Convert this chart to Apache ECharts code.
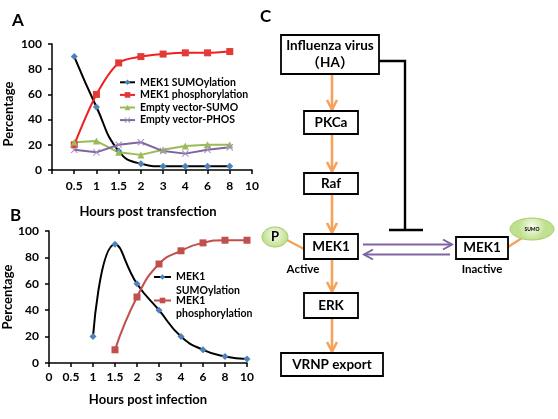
<!DOCTYPE html>
<html><head><meta charset="utf-8">
<script src="https://cdn.jsdelivr.net/npm/echarts@6/dist/echarts.min.js"></script>
<style>html,body{margin:0;padding:0;background:#fff}#c{width:558px;height:419px}</style>
</head><body><div id="c"></div>
<script>
// ---- Data ----
const xLabelsA = ['', '0.5', '1', '1.5', '2', '3', '4', '6', '8', '10'];
const sumoA = [null, 90, 50, 15, 5, 3, 3, 3, 3, null];
const phosA = [null, 20, 60, 85, 90, 92, 93, 93, 94, null];
const emptySumoA = [null, 22, 23, 14, 12, 16, 19, 20, 20, null];
const emptyPhosA = [null, 16, 14, 20, 22, 15, 13, 16, 18, null];
const seriesNamesA = ['MEK1 SUMOylation', 'MEK1 phosphorylation', 'Empty vector-SUMO', 'Empty vector-PHOS'];

const xLabelsB = ['0', '0.5', '1', '1.5', '2', '3', '4', '6', '8', '10'];
const sumoB = [null, null, 20, 90, 60, 40, 20, 10, 5, 3];
const phosB = [null, null, null, 10, 50, 75, 85, 91, 93, 93];
const seriesNamesB = ['MEK1\nSUMOylation', 'MEK1\nphosphorylation'];

const yMin = 0, yMax = 100, yStep = 20;

// ---- Styling ----
const FONT = 'Lato, "Noto Sans CJK SC", sans-serif';
const BLACK = '#000';
const ORANGE = '#F5A25A';
const PURPLE = '#8064A2';
const XSYM = 'path://M0,1L1,0L5,4L9,0L10,1L6,5L10,9L9,10L5,6L1,10L0,9L4,5Z';

const chart = echarts.init(document.getElementById('c'), null, {renderer: 'canvas', width: 558, height: 419});

function xAxisCfg(grid, data, name, nameGap, labelMargin, pad) {
  return {
    gridIndex: grid, type: 'category', data: data, boundaryGap: false,
    axisLine: {show: true, lineStyle: {color: BLACK, width: 1.5}},
    axisTick: {show: true, length: 4, interval: 0, lineStyle: {color: BLACK, width: 1.5}},
    axisLabel: {interval: 0, color: BLACK, fontFamily: FONT, fontWeight: 'bold', fontSize: 12, margin: labelMargin},
    splitLine: {show: false},
    name: name, nameLocation: 'middle', nameGap: nameGap,
    nameTextStyle: {color: BLACK, fontFamily: FONT, fontWeight: 'bold', fontSize: 13, padding: pad}
  };
}
function yAxisCfg(grid, nameGap, pad) {
  return {
    gridIndex: grid, type: 'value', min: yMin, max: yMax, interval: yStep,
    axisLine: {show: true, lineStyle: {color: BLACK, width: 1.5}},
    axisTick: {show: true, length: 4, lineStyle: {color: BLACK, width: 1.5}},
    axisLabel: {color: BLACK, fontFamily: FONT, fontWeight: 'bold', fontSize: 12, margin: 10},
    splitLine: {show: false},
    name: 'Percentage', nameLocation: 'middle', nameGap: nameGap,
    nameTextStyle: {color: BLACK, fontFamily: FONT, fontWeight: 'bold', fontSize: 13, padding: pad}
  };
}

// ---- Diagram (panel C) helpers ----
const G = [];
function box(x, y, w, h) {
  G.push({type: 'rect', shape: {x: x, y: y, width: w, height: h}, style: {fill: '#fff', stroke: BLACK, lineWidth: 1.8}, z: 10});
}
function txt(t, x, y, size, weight) {
  G.push({type: 'text', x: x, y: y, z: 12, style: {text: t, align: 'center', verticalAlign: 'middle', fontFamily: FONT, fontSize: size, fontWeight: weight || 'bold', fill: BLACK}});
}
function downArrow(x, y1, y2) {
  G.push({type: 'line', shape: {x1: x, y1: y1, x2: x, y2: y2 - 1}, style: {stroke: ORANGE, lineWidth: 2.6}, z: 9});
  G.push({type: 'polyline', shape: {points: [[x - 5, y2 - 11], [x, y2 - 1.5], [x + 5, y2 - 11]]}, style: {stroke: ORANGE, lineWidth: 2.6, fill: null, lineJoin: 'miter'}, z: 9});
}
function hArrow(x1, x2, y) {
  const d = x2 > x1 ? 1 : -1;
  G.push({type: 'line', shape: {x1: x1, y1: y, x2: x2, y2: y}, style: {stroke: PURPLE, lineWidth: 2}, z: 9});
  G.push({type: 'polyline', shape: {points: [[x2 - d * 9, y - 5], [x2, y], [x2 - d * 9, y + 5]]}, style: {stroke: PURPLE, lineWidth: 2, fill: null}, z: 9});
}
function bubble(cx, cy, rx, ry, t, size) {
  G.push({type: 'ellipse', shape: {cx: cx, cy: cy, rx: rx, ry: ry}, z: 10,
    style: {fill: new echarts.graphic.RadialGradient(0.5, 0.4, 0.6, [{offset: 0, color: '#F7FCEC'}, {offset: 1, color: '#BFE08E'}]), stroke: '#A9CB6E', lineWidth: 1}});
  txt(t, cx, cy, size, 'bold');
}
function connector(x1, y1, x2, y2) {
  G.push({type: 'line', shape: {x1: x1, y1: y1, x2: x2, y2: y2}, style: {stroke: ORANGE, lineWidth: 2.4}, z: 9});
}

// panel letters
G.push({type: 'text', x: 12, y: 12, z: 12, style: {text: 'A', fontFamily: FONT, fontSize: 17, fontWeight: 'bold', fill: BLACK}});
G.push({type: 'text', x: 10, y: 207, z: 12, style: {text: 'B', fontFamily: FONT, fontSize: 17, fontWeight: 'bold', fill: BLACK}});
G.push({type: 'text', x: 260, y: 8, z: 12, style: {text: 'C', fontFamily: FONT, fontSize: 17, fontWeight: 'bold', fill: BLACK}});

// inhibition
G.push({type: 'polyline', shape: {points: [[379, 61], [405, 61], [405, 230]]}, style: {stroke: BLACK, lineWidth: 2.4, fill: null}, z: 9});
G.push({type: 'line', shape: {x1: 389, y1: 230, x2: 423, y2: 230}, style: {stroke: BLACK, lineWidth: 2.6}, z: 9});

downArrow(332, 74, 111);
downArrow(332, 134, 173);
downArrow(332, 194, 234);
downArrow(332, 259, 293);
downArrow(332, 318, 353);
hArrow(363, 452, 244.5);
hArrow(450, 364, 254.5);
connector(287, 240, 304, 249);
connector(522, 238, 508, 247);

box(281, 35, 98, 39); txt('Influenza virus', 330, 46, 13.5); txt('（HA）', 330, 63, 13.5);
box(304, 111, 54, 23); txt('PKCa', 331, 123, 13.5);
box(304, 173, 54, 21); txt('Raf', 331, 184, 13.5);
box(304, 234, 54, 25); txt('MEK1', 331, 246.5, 13.5);
box(456, 237, 52, 22); txt('MEK1', 482, 248, 13.5);
box(304, 293, 54, 25); txt('ERK', 331, 305.5, 13.5);
box(281, 353, 102, 23); txt('VRNP export', 332, 364.5, 13.5);
txt('Active', 303, 269, 11.5);
txt('Inactive', 482, 269, 11.5);
bubble(275, 237, 13, 10, 'P', 13);
bubble(532, 229, 22, 11, 'SUMO', 5);

const legendTxt = {color: BLACK, fontFamily: FONT, fontSize: 10.5, fontWeight: 'bold'};

const option = {
  backgroundColor: '#fff',
  animation: false,
  grid: [
    {left: 52, top: 44, width: 200, height: 126},
    {left: 49, top: 231, width: 198, height: 132}
  ],
  xAxis: [
    xAxisCfg(0, xLabelsA, 'Hours post transfection', 35, 10, [0, 8, 0, 0]),
    xAxisCfg(1, xLabelsB, 'Hours post infection', 30, 8, [0, 0, 0, 0])
  ],
  yAxis: [
    yAxisCfg(0, 37, [0, 14, 0, 0]),
    yAxisCfg(1, 33, 0)
  ],
  legend: [
    {orient: 'vertical', left: 114, top: 71, itemWidth: 15, itemHeight: 7, itemGap: 0,
      data: seriesNamesA, textStyle: Object.assign({lineHeight: 12.6}, legendTxt)},
    {orient: 'vertical', left: 148, top: 251, itemWidth: 17, itemHeight: 7,
      data: [seriesNamesB[0]], formatter: n => '\n' + n, textStyle: Object.assign({lineHeight: 14}, legendTxt)},
    {orient: 'vertical', left: 148, top: 276, itemWidth: 17, itemHeight: 7,
      data: [seriesNamesB[1]], formatter: n => '\n' + n, textStyle: Object.assign({lineHeight: 13}, legendTxt)}
  ],
  graphic: G,
  series: [
    {name: seriesNamesA[0], type: 'line', xAxisIndex: 0, yAxisIndex: 0, data: sumoA, smooth: true,
      symbol: 'diamond', symbolSize: 7, lineStyle: {color: BLACK, width: 2}, itemStyle: {color: '#4F81BD'}},
    {name: seriesNamesA[1], type: 'line', xAxisIndex: 0, yAxisIndex: 0, data: phosA, smooth: 0.3,
      symbol: 'rect', symbolSize: 7, lineStyle: {color: '#F01E1E', width: 2}, itemStyle: {color: '#E23A36'}},
    {name: seriesNamesA[2], type: 'line', xAxisIndex: 0, yAxisIndex: 0, data: emptySumoA,
      symbol: 'triangle', symbolSize: 7, lineStyle: {color: '#9BBB59', width: 2}, itemStyle: {color: '#9BBB59'}},
    {name: seriesNamesA[3], type: 'line', xAxisIndex: 0, yAxisIndex: 0, data: emptyPhosA,
      symbol: XSYM, symbolSize: 7, lineStyle: {color: PURPLE, width: 2}, itemStyle: {color: '#A08CC0'}},
    {name: seriesNamesB[0], type: 'line', xAxisIndex: 1, yAxisIndex: 1, data: sumoB, smooth: true,
      symbol: 'diamond', symbolSize: 7, lineStyle: {color: BLACK, width: 2}, itemStyle: {color: '#4F81BD'}},
    {name: seriesNamesB[1], type: 'line', xAxisIndex: 1, yAxisIndex: 1, data: phosB, smooth: true,
      symbol: 'rect', symbolSize: 7, lineStyle: {color: '#C0504D', width: 2}, itemStyle: {color: '#C0504D'}}
  ]
};
chart.setOption(option);
</script></body></html>
